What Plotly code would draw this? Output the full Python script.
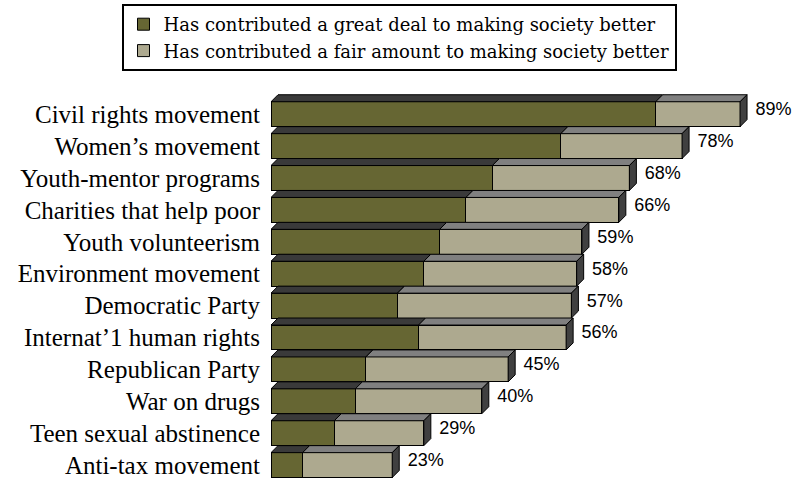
import plotly.graph_objects as go

categories = ["Civil rights movement", "Women\u2019s movement", "Youth-mentor programs",
              "Charities that help poor", "Youth volunteerism", "Environment movement",
              "Democratic Party", "Internat\u20191 human rights", "Republican Party",
              "War on drugs", "Teen sexual abstinence", "Anti-tax movement"]
great_deal = [73, 55, 42, 37, 32, 29, 24, 28, 18, 16, 12, 6]
totals = [89, 78, 68, 66, 59, 58, 57, 56, 45, 40, 29, 23]
fair_amount = [t - g for t, g in zip(totals, great_deal)]
total_labels = [f"{t}%" for t in totals]
series_names = ["Has contributed a great deal to making society better",
                "Has contributed a fair amount to making society better"]

DARK = "#666633"
LIGHT = "#ADA98F"
TOP_DARK = "#3A3A3A"
TOP_LIGHT = "#808080"
SIDE = "#404040"

W = 0.78     # bar front thickness (category units)
DY = 0.22    # depth, category units
DX = 1.33    # depth, value units

ypos = list(range(len(categories)))

fig = go.Figure()
fig.add_trace(go.Bar(y=ypos, x=great_deal, orientation="h", width=W, name=series_names[0],
                     marker=dict(color=DARK, line=dict(color="black", width=1))))
fig.add_trace(go.Bar(y=ypos, x=fair_amount, base=great_deal, orientation="h", width=W,
                     name=series_names[1],
                     marker=dict(color=LIGHT, line=dict(color="black", width=1))))

def poly_trace(xs, ys, color):
    return go.Scatter(x=xs, y=ys, mode="lines", fill="toself", fillcolor=color,
                      line=dict(color="black", width=1), showlegend=False, hoverinfo="skip")

tdx, tdy, ldx, ldy, sdx, sdy = [], [], [], [], [], []
for i, (g, t) in enumerate(zip(great_deal, totals)):
    yt = i - W / 2
    yb = yt - DY
    tdx += [0, DX, g + DX, g, 0, None]
    tdy += [yt, yb, yb, yt, yt, None]
    ldx += [g, g + DX, t + DX, t, g, None]
    ldy += [yt, yb, yb, yt, yt, None]
    sdx += [t, t + DX, t + DX, t, t, None]
    sdy += [yt, yb, yb + W, yt + W, yt, None]

fig.add_trace(poly_trace(tdx, tdy, TOP_DARK))
fig.add_trace(poly_trace(ldx, ldy, TOP_LIGHT))
fig.add_trace(poly_trace(sdx, sdy, SIDE))

fig.add_trace(go.Scatter(x=[t + DX + 1.6 for t in totals], y=[i - DY / 2 for i in ypos],
                         mode="text", text=total_labels, textposition="middle right",
                         textfont=dict(family="Liberation Sans", size=18, color="black"),
                         showlegend=False, hoverinfo="skip"))

fig.update_layout(
    width=798, height=479,
    margin=dict(l=271, r=0, t=80, b=0, autoexpand=False),
    paper_bgcolor="white", plot_bgcolor="white",
    barmode="stack",
    showlegend=True,
    legend=dict(xref="container", yref="container", x=0.5, xanchor="center",
                y=1 - 4 / 479, yanchor="top",
                font=dict(family="DejaVu Serif", size=18, color="black"),
                bordercolor="black", borderwidth=2, bgcolor="white",
                traceorder="normal"),
    xaxis=dict(range=[0, 100], visible=False, fixedrange=True),
    yaxis=dict(range=[11.436, -1.072], tickmode="array", tickvals=ypos, ticktext=categories,
               showgrid=False, zeroline=False, showline=False, ticks="",
               ticklabelstandoff=10, automargin=False, fixedrange=True,
               tickfont=dict(family="Liberation Serif", size=25, color="black")),
)

fig.write_html("out.html", config={"displayModeBar": False},
               post_script="document.body.style.margin='0';")
